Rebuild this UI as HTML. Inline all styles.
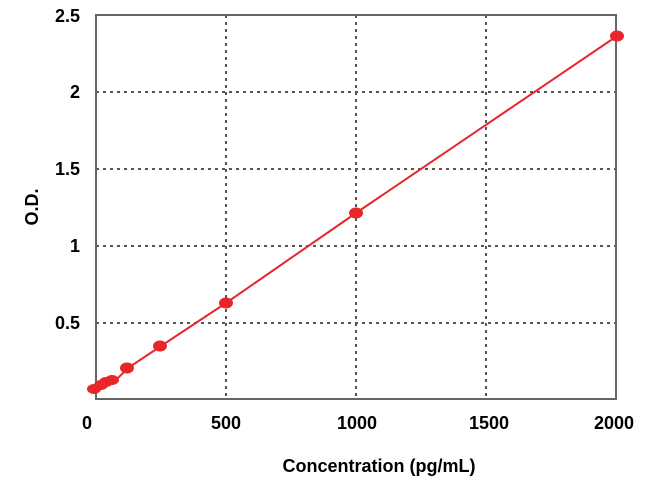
<!DOCTYPE html>
<html><head><style>body{margin:0;background:#fff}</style></head><body>
<svg width="650" height="487" xmlns="http://www.w3.org/2000/svg" font-family="Liberation Sans, Arial, sans-serif" font-weight="bold">
<g stroke="#555" stroke-width="2" stroke-dasharray="3,4" fill="none">
<line x1="96" y1="323" x2="616" y2="323"/><line x1="96" y1="246" x2="616" y2="246"/>
<line x1="96" y1="169" x2="616" y2="169"/><line x1="96" y1="92" x2="616" y2="92"/>
<line x1="226" y1="15" x2="226" y2="399"/><line x1="356" y1="15" x2="356" y2="399"/><line x1="486" y1="15" x2="486" y2="399"/>
</g>
<rect x="96" y="15" width="520" height="384" fill="none" stroke="#666" stroke-width="2"/>
<g fill="#000" font-size="18" text-anchor="end">
<text x="80" y="329">0.5</text><text x="80" y="252">1</text><text x="80" y="175">1.5</text><text x="80" y="98">2</text><text x="80" y="22">2.5</text>
</g>
<g fill="#000" font-size="18" text-anchor="middle">
<text x="87" y="429">0</text><text x="226" y="429">500</text><text x="357" y="429">1000</text><text x="489" y="429">1500</text><text x="614" y="429">2000</text>
<text x="379" y="472">Concentration (pg/mL)</text>
<text transform="translate(38,207) rotate(-90)">O.D.</text>
</g>
<polyline fill="none" stroke="#e8262a" stroke-width="2" points="94,389 104,384 112,380 118,378 128,368 161,346 226,303 356,213 617,36"/>
<g fill="#e8262a">
<ellipse cx="94" cy="389" rx="7" ry="5"/><ellipse cx="101" cy="385" rx="7" ry="5"/><ellipse cx="106" cy="382" rx="7" ry="5"/><ellipse cx="112" cy="380" rx="7" ry="5"/>
<ellipse cx="127" cy="368" rx="7" ry="5.5"/><ellipse cx="160" cy="346" rx="7" ry="5.5"/><ellipse cx="226" cy="303" rx="7" ry="5.5"/><ellipse cx="356" cy="213" rx="7" ry="5.5"/><ellipse cx="617" cy="36" rx="7" ry="5.5"/>
</g>
</svg>
</body></html>
